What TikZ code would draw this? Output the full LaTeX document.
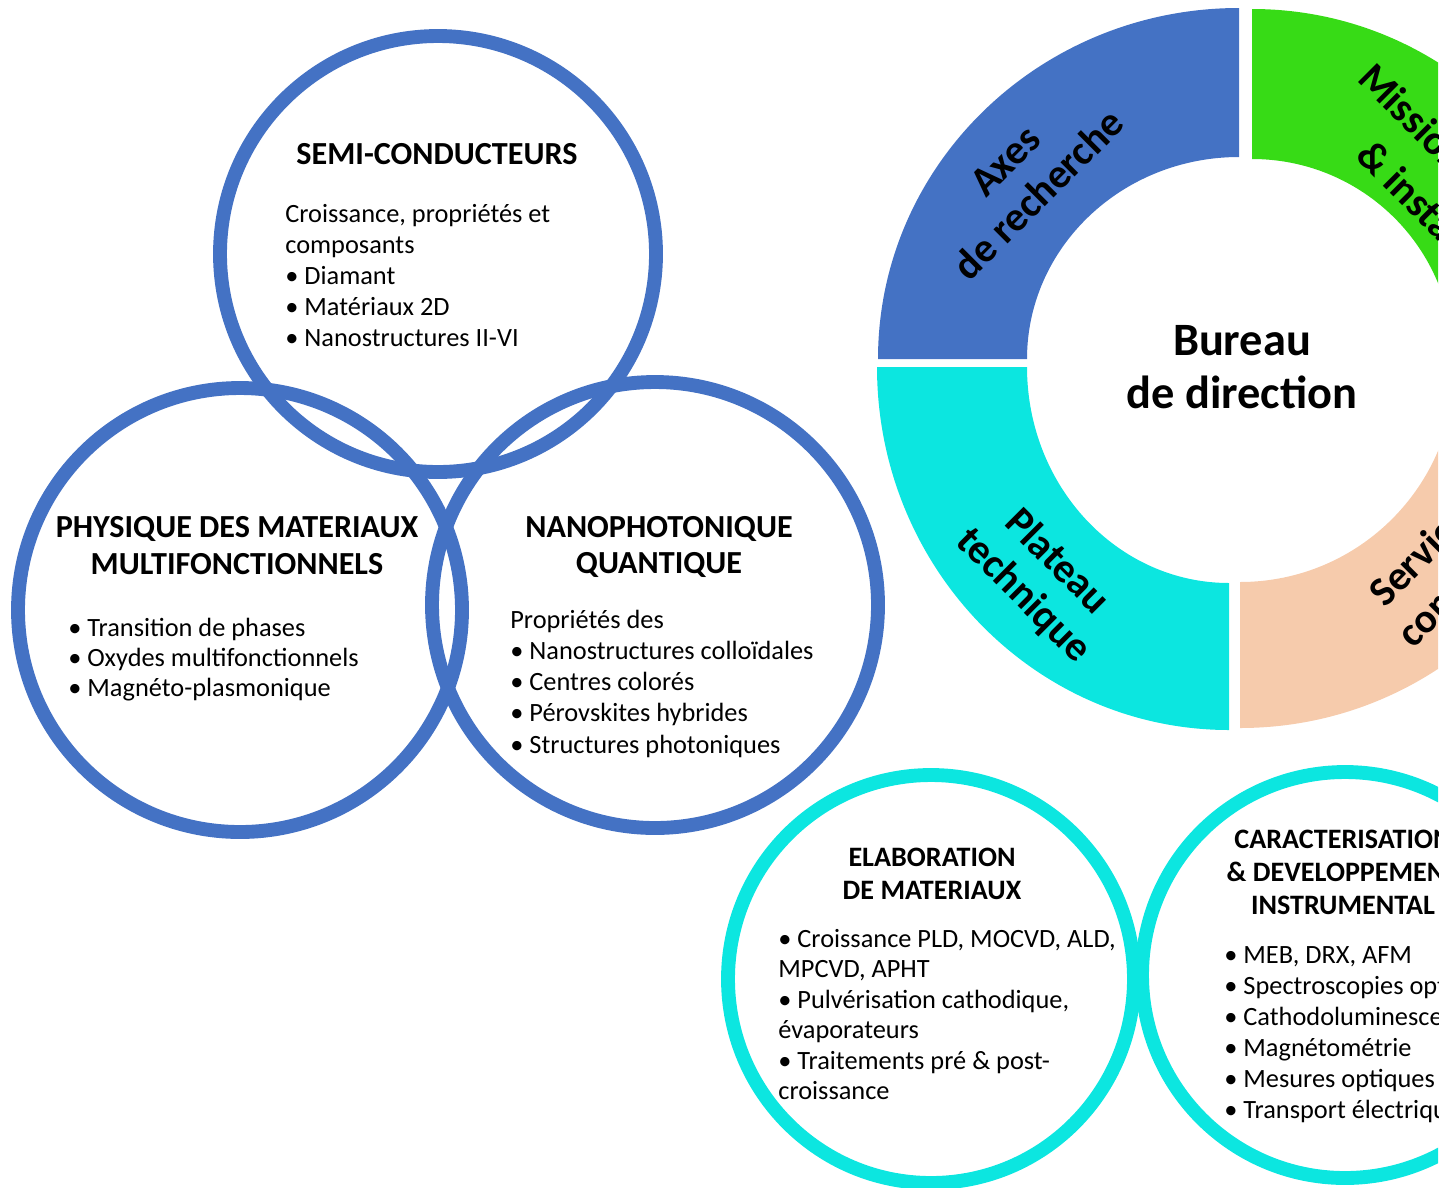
\documentclass[tikz,border=0pt]{standalone}
\usepackage{fontspec}
\setmainfont{Carlito}

\definecolor{axeblue}{RGB}{68,114,196}
\definecolor{platcyan}{RGB}{12,230,224}
\definecolor{missgreen}{RGB}{55,219,22}
\definecolor{servpeach}{RGB}{246,203,172}

\def\pxu{0.02cm}

\tikzset{
  venn/.style={draw=axeblue, line width=7.9pt},
  tech/.style={draw=platcyan, line width=7.9pt},
  titre/.style={font=\fontsize{18.3}{21}\selectfont\bfseries, inner sep=0, anchor=base},
  petittitre/.style={font=\fontsize{16}{19}\selectfont\bfseries, inner sep=0, anchor=base},
  ligne/.style={font=\fontsize{15}{18}\selectfont, inner sep=0, anchor=base west},
  secteur/.style={font=\fontsize{23.5}{27}\selectfont\bfseries, align=center, inner sep=0},
}

% one quarter of the ring: colour, centre x, centre y, angles, outer radii, inner radii
\newcommand{\quartier}[9]{%
  \fill[#1] ([shift={(#4:#6*0.02cm and #7*0.02cm)}]#2,#3)
      arc[start angle=#4, end angle=#5, x radius=#6*0.02cm, y radius=#7*0.02cm]
    -- ([shift={(#5:#8*0.02cm and #9*0.02cm)}]#2,#3)
      arc[start angle=#5, end angle=#4, x radius=#8*0.02cm, y radius=#9*0.02cm] -- cycle;}

\begin{document}
\begin{tikzpicture}[x=\pxu, y=\pxu]
  \useasboundingbox (0,0) rectangle (1453,-1187);
  \clip (0,0) rectangle (1438,-1187);

  % the ring
  \quartier{axeblue}{1239}{-359}{90}{180}{361}{351}{212}{202}
  \quartier{missgreen}{1252}{-359}{0}{90}{350}{350}{201}{200}
  \quartier{platcyan}{1229}{-367}{180}{270}{352}{363}{202}{216}
  \quartier{servpeach}{1240}{-367}{270}{360}{361}{361}{215}{215}

  \node[font=\fontsize{26.4}{30}\selectfont\bfseries, align=center] (bureau) at (1242,-367) {Bureau\\de direction};
  \node[secteur, rotate=45] (axes) at (1022,-178) {Axes\\de recherche};
  \node[secteur, rotate=-45] (plateau) at (1040,-579) {Plateau\\technique};
  \node[secteur, rotate=-45, anchor=base west] (mis1) at (1356,-80) {Missions};
  \node[secteur, rotate=-45, anchor=base west] (mis2) at (1354,-157) {\& instances};
  \node[secteur, rotate=45, anchor=base west] (ser1) at (1385,-609) {Services};
  \node[secteur, rotate=45, anchor=base west] (ser2) at (1413,-650) {communs};

  % research axes
  \draw[venn] (438,-254) circle[radius=218*0.02cm];
  \draw[venn] (240,-610) circle[radius=222*0.02cm];
  \draw[venn] (655,-605) circle[radius=223*0.02cm];

  \node[titre] (semi) at (437,-164) {SEMI-CONDUCTEURS};
  \node[titre] (phys1) at (237,-537) {PHYSIQUE DES MATERIAUX};
  \node[titre] (phys2) at (237,-574) {MULTIFONCTIONNELS};
  \node[titre] (nano1) at (659,-537) {NANOPHOTONIQUE};
  \node[titre] (nano2) at (659,-573) {QUANTIQUE};

  \def\dy{31.2};
  \foreach \i/\txt/\id in {{0/{Croissance, propriétés et}/sc0}, {1/composants/sc1}, {2/{\textbullet\ Diamant}/sc2},
      {3/{\textbullet\ Matériaux 2D}/sc3}, {4/{\textbullet\ Nanostructures II-VI}/sc4}}
    \node[ligne] (\id) at (285, -222 - \i*\dy) {\txt};

  \def\dy{30};
  \foreach \i/\txt/\id in {{0/{\textbullet\ Transition de phases}/pm0}, {1/{\textbullet\ Oxydes multifonctionnels}/pm1},
      {2/{\textbullet\ Magnéto-plasmonique}/pm2}}
    \node[ligne] (\id) at (68, -636 - \i*\dy) {\txt};

  \def\dy{31.3};
  \foreach \i/\txt/\id in {{0/{Propriétés des}/nq0}, {1/{\textbullet\ Nanostructures colloïdales}/nq1},
      {2/{\textbullet\ Centres colorés}/nq2}, {3/{\textbullet\ Pérovskites hybrides}/nq3},
      {4/{\textbullet\ Structures photoniques}/nq4}}
    \node[ligne] (\id) at (510, -628 - \i*\dy) {\txt};

  % technical platform
  \draw[tech] (931,-979) circle[x radius=203*0.02cm, y radius=204*0.02cm];
  \draw[tech] (1345,-975) circle[radius=203*0.02cm];

  \node[petittitre] (elab1) at (932,-866) {ELABORATION};
  \node[petittitre] (elab2) at (932,-899) {DE MATERIAUX};
  \node[petittitre] (cara1) at (1343,-848) {CARACTERISATION};
  \node[petittitre] (cara2) at (1343,-881) {\& DEVELOPPEMENT};
  \node[petittitre] (cara3) at (1343,-914) {INSTRUMENTAL};

  \def\dy{30.5};
  \foreach \i/\txt/\id in {{0/{\textbullet\ Croissance PLD, MOCVD, ALD,}/em0}, {1/{MPCVD, APHT}/em1},
      {2/{\textbullet\ Pulvérisation cathodique,}/em2}, {3/évaporateurs/em3},
      {4/{\textbullet\ Traitements pré \& post-}/em4}, {5/croissance/em5}}
    \node[ligne] (\id) at (778, -947 - \i*\dy) {\txt};

  \def\dy{31};
  \foreach \i/\txt/\id in {{0/{\textbullet\ MEB, DRX, AFM}/cd0}, {1/{\textbullet\ Spectroscopies optiques}/cd1},
      {2/{\textbullet\ Cathodoluminescence}/cd2}, {3/{\textbullet\ Magnétométrie}/cd3},
      {4/{\textbullet\ Mesures optiques}/cd4}, {5/{\textbullet\ Transport électrique}/cd5}}
    \node[ligne] (\id) at (1224, -963 - \i*\dy) {\txt};
\end{tikzpicture}
\end{document}
